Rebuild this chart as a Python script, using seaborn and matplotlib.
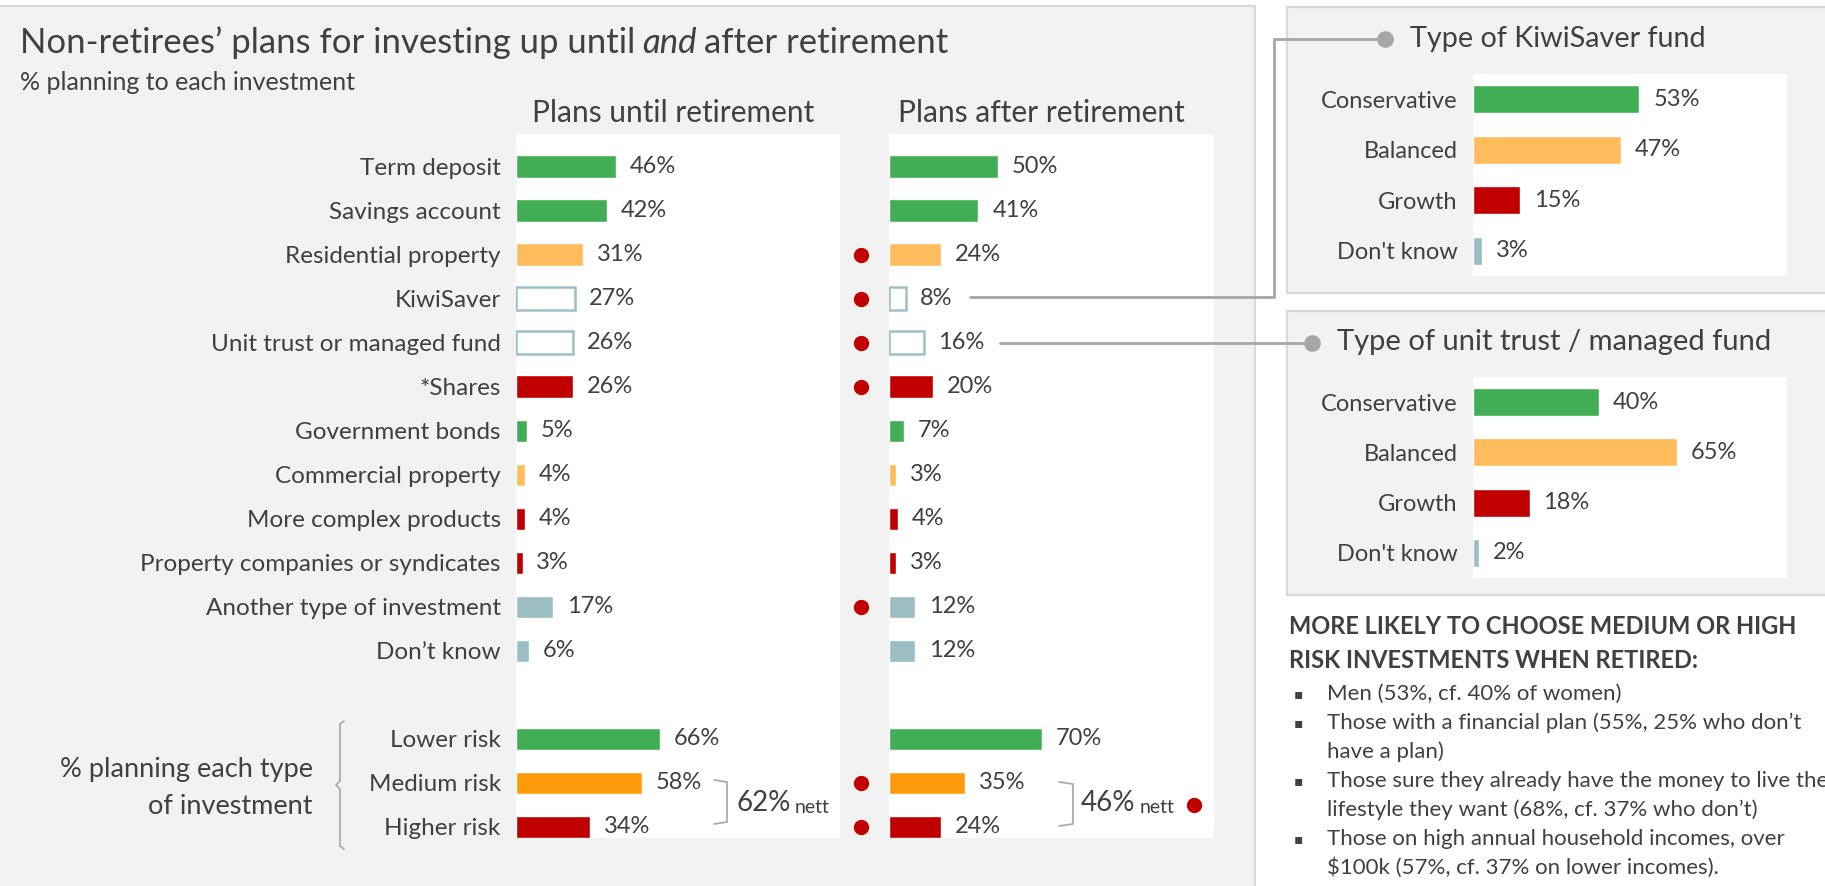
import numpy as np
import pandas as pd
import matplotlib.pyplot as plt
from matplotlib.lines import Line2D
from matplotlib.patches import Rectangle
import seaborn as sns

sns.set_style("white")
plt.rcParams['font.family'] = ['Lato', 'DejaVu Sans']

# ---- data ----
inv_labels = ['Term deposit', 'Savings account', 'Residential property', 'KiwiSaver',
              'Unit trust or managed fund', '*Shares', 'Government bonds',
              'Commercial property', 'More complex products',
              'Property companies or syndicates', 'Another type of investment', 'Don’t know']
until_vals = [46, 42, 31, 27, 26, 26, 5, 4, 4, 3, 17, 6]
after_vals = [50, 41, 24, 8, 16, 20, 7, 3, 4, 3, 12, 12]
inv_styles = ['green', 'green', 'peach', 'outline', 'outline', 'red', 'green',
              'peach', 'red', 'red', 'grey', 'grey']
after_sig = [False, False, True, True, True, True, False, False, False, False, True, False]

risk_labels = ['Lower risk', 'Medium risk', 'Higher risk']
risk_until = [66, 58, 34]
risk_after = [70, 35, 24]
risk_styles = ['green', 'orange', 'red']
risk_after_sig = [False, True, True]
nett_until = 62
nett_after = 46

fund_labels = ['Conservative', 'Balanced', 'Growth', "Don't know"]
kiwi_vals = [53, 47, 15, 3]
unit_vals = [40, 65, 18, 2]
fund_styles = ['green', 'peach', 'red', 'grey']

bullets = [
    ["Men (53%, cf. 40% of women)"],
    ["Those with a financial plan (55%, 25% who don’t", "have a plan)"],
    ["Those sure they already have the money to live the",
     "lifestyle they want (68%, cf. 37% who don’t)"],
    ["Those on high annual household incomes, over",
     "$100k (57%, cf. 37% on lower incomes)."],
]

COLORS = {'green': '#41AD55', 'peach': '#FFBC5D', 'red': '#C00000',
          'grey': '#9BBEC5', 'orange': '#FF9B0B', 'outline': '#FFFFFF'}
EDGE = '#9DC0C6'
TXT = '#404040'
LINE = '#A6A6A6'
FS = 17.5     # category labels
VFS = 17      # value labels

W, H = 1825, 886
fig = plt.figure(figsize=(W / 100, H / 100), dpi=100)


def fx(x):
    return x / W


def fy(y):
    return 1 - y / H


def add_ax(x, y, w, h):
    return fig.add_axes([fx(x), fy(y + h), w / W, h / H])


def fig_line(xs, ys, **kw):
    fig.add_artist(Line2D([fx(x) for x in xs], [fy(y) for y in ys],
                          transform=fig.transFigure, **kw))


def fig_box(x, y, w, h):
    fig.add_artist(Rectangle((fx(x), fy(y + h)), w / W, h / H, transform=fig.transFigure,
                             fc='#F2F2F2', ec='#D9D9D9', lw=1.5, zorder=-1))


def bar_panel(ax, labels, vals, styles, pos, width, xmax, ylim, lab_fs, show_labels=True):
    df = pd.DataFrame({'label': labels, 'value': vals, 'pos': pos})
    pal = {l: COLORS[s] for l, s in zip(labels, styles)}
    sns.barplot(data=df, x='value', y='pos', hue='label', palette=pal, orient='h',
                native_scale=True, dodge=False, width=width, legend=False,
                saturation=1, ax=ax)
    style_at = dict(zip(pos, styles))
    for p in ax.patches:
        r = int(round(p.get_y() + p.get_height() / 2))
        if style_at.get(r) == 'outline':
            p.set_facecolor('white')
            p.set_edgecolor(EDGE)
            p.set_linewidth(1.8)
    for c in ax.containers:
        ax.bar_label(c, fmt='{:.0f}%', padding=10, fontsize=VFS, color=TXT)
    ax.set_xlim(0, xmax)
    ax.set_ylim(*ylim)
    ax.set_xticks([])
    if show_labels:
        ax.set_yticks(pos)
        ax.set_yticklabels(labels)
    else:
        ax.set_yticks([])
    ax.tick_params(axis='y', length=0, pad=11, labelsize=lab_fs, labelcolor=TXT)
    ax.set_xlabel('')
    ax.set_ylabel('')
    ax.set_facecolor('white')
    for s in ax.spines.values():
        s.set_visible(False)


# ---- background panels ----
fig_box(-2, 6, 1257, 884)
fig_box(1287, 7, 545, 286)
fig_box(1287, 311, 545, 284)

# ---- main title ----
t1 = fig.text(fx(20), fy(43), "Non-retirees’ plans for investing up until", fontsize=25,
              color=TXT, va='center')
t2 = fig.text(0, 0, "and", fontsize=25, color=TXT, style='italic', va='bottom')
t3 = fig.text(0, 0, "after retirement", fontsize=25, color=TXT, va='bottom')
fig.canvas.draw()
r = fig.canvas.get_renderer()
bb = t1.get_window_extent(r)
t2.set_position(((bb.x1 + 7) / W, bb.y0 / H))
bb2 = t2.get_window_extent(r)
t3.set_position(((bb2.x1 + 7) / W, bb.y0 / H))

fig.text(fx(20), fy(82), "% planning to each investment", fontsize=18, color=TXT, va='center')
fig.text(fx(673), fy(113), "Plans until retirement", fontsize=21.5, color=TXT,
         va='center', ha='center')
fig.text(fx(1041), fy(113), "Plans after retirement", fontsize=21.5, color=TXT,
         va='center', ha='center')

# ---- left charts ----
all_labels = inv_labels + risk_labels
all_pos = list(range(len(inv_labels))) + [13, 14, 15]
all_styles = inv_styles + risk_styles
ylim_main = (15.25, -0.74)

ax_until = add_ax(516, 134, 324, 704)
bar_panel(ax_until, all_labels, until_vals + risk_until, all_styles, all_pos,
          0.51, 149, ylim_main, FS)

ax_after = add_ax(889, 134, 325, 704)
bar_panel(ax_after, all_labels, after_vals + risk_after, all_styles, all_pos,
          0.51, 149, ylim_main, FS, show_labels=False)

sig = after_sig + risk_after_sig
sig_pos = [p for p, s in zip(all_pos, sig) if s]
ax_after.plot(np.full(len(sig_pos), -12.8), sig_pos, 'o', color=COLORS['red'],
              ms=10, clip_on=False)
ax_after.plot([140], [14.5], 'o', color=COLORS['red'], ms=10, clip_on=False)

# nett brackets
fig_line([714, 727, 727, 714], [780, 782, 822, 824], color=LINE, lw=1.2)
fig_line([1059, 1073, 1073, 1059], [782, 784, 824, 826], color=LINE, lw=1.2)
for x0, v in [(736, nett_until), (1081, nett_after)]:
    tn = fig.text(fx(x0), fy(803), f"{v}%", fontsize=20, color=TXT, va='center')
    fig.canvas.draw()
    b = tn.get_window_extent(fig.canvas.get_renderer())
    fig.text((b.x1 + 4) / W, b.y0 / H, "nett", fontsize=14, color=TXT, va='bottom')

# curly bracket for risk rows
fig_line([344, 340, 340, 336, 340, 340, 344], [721, 724, 781, 785, 789, 846, 849],
         color=LINE, lw=1.2)
fig.text(fx(313), fy(770), "% planning each type", fontsize=19.5, color=TXT,
         ha='right', va='center')
fig.text(fx(313), fy(806), "of investment", fontsize=19.5, color=TXT,
         ha='right', va='center')

# ---- right: fund type panels ----
ax_kiwi = add_ax(1473, 74, 314, 202)
bar_panel(ax_kiwi, fund_labels, kiwi_vals, fund_styles, list(range(4)), 0.56, 100,
          (3.5, -0.5), 17)
ax_unit = add_ax(1473, 377, 314, 201)
bar_panel(ax_unit, fund_labels, unit_vals, fund_styles, list(range(4)), 0.56, 100,
          (3.5, -0.5), 17)

fig.text(fx(1410), fy(39), "Type of KiwiSaver fund", fontsize=20.7, color=TXT, va='center')
fig.text(fx(1337), fy(342), "Type of unit trust / managed fund", fontsize=21, color=TXT,
         va='center')

# connectors
fig_line([970, 1274, 1274, 1385], [297, 297, 39, 39], color=LINE, lw=2)
fig_line([1385], [39], marker='o', ms=11, color=LINE)
fig_line([1000, 1312], [343, 343], color=LINE, lw=2)
fig_line([1312], [343], marker='o', ms=11, color=LINE)

# ---- notes ----
fig.text(fx(1289), fy(627), "MORE LIKELY TO CHOOSE MEDIUM OR HIGH", fontsize=17,
         fontweight='bold', color=TXT, va='center')
fig.text(fx(1289), fy(660), "RISK INVESTMENTS WHEN RETIRED:", fontsize=17,
         fontweight='bold', color=TXT, va='center')
y = 694
for item in bullets:
    fig.text(fx(1294), fy(y), "▪", fontsize=10, color=TXT, va='center',
             family='DejaVu Sans')
    for line in item:
        fig.text(fx(1327), fy(y), line, fontsize=16, color=TXT, va='center')
        y += 29

fig.savefig('out.png', dpi=100)
